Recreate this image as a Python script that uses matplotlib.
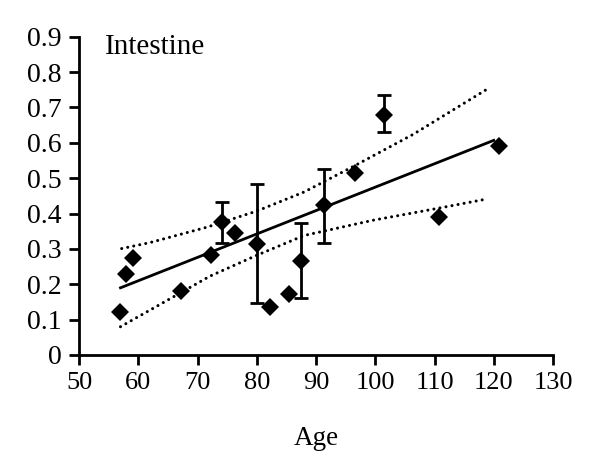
import matplotlib
matplotlib.use("Agg")
import matplotlib.pyplot as plt

# Data
ages = [57.0, 58.0, 59.1, 67.2, 72.3, 74.2, 76.3, 80.1, 82.3, 85.4, 87.4, 91.4, 96.5, 101.5, 110.7, 120.8]
values = [0.122, 0.229, 0.275, 0.182, 0.282, 0.377, 0.344, 0.313, 0.137, 0.172, 0.265, 0.424, 0.515, 0.678, 0.391, 0.590]

err_ages = [74.2, 80.1, 87.4, 91.4, 101.5]
err_vals = [0.377, 0.313, 0.265, 0.424, 0.678]
err_low = [0.059, 0.166, 0.105, 0.106, 0.047]
err_high = [0.056, 0.170, 0.107, 0.101, 0.057]

fit_x = [57.0, 120.0]
fit_y = [0.190, 0.607]

upper_x = [57.2, 62.0, 71.5, 80.0, 88.0, 96.5, 106.4, 118.8]
upper_y = [0.301, 0.318, 0.361, 0.407, 0.461, 0.535, 0.624, 0.751]
lower_x = [57.0, 62.3, 72.1, 80.0, 88.0, 99.6, 110.0, 118.8]
lower_y = [0.080, 0.130, 0.223, 0.282, 0.338, 0.381, 0.413, 0.441]

x_ticks = [50, 60, 70, 80, 90, 100, 110, 120, 130]
y_ticks = [0, 0.1, 0.2, 0.3, 0.4, 0.5, 0.6, 0.7, 0.8, 0.9]
y_tick_labels = ["0", "0.1", "0.2", "0.3", "0.4", "0.5", "0.6", "0.7", "0.8", "0.9"]

plt.rcParams['font.family'] = ['Liberation Serif', 'DejaVu Serif']

fig = plt.figure(figsize=(6.0, 4.71), dpi=100)
ax = fig.add_axes([0.1317, 0.2463, 0.79, 0.6757])

ax.errorbar(err_ages, err_vals, yerr=[err_low, err_high], fmt='none',
            ecolor='black', elinewidth=2.0, capsize=5.0, capthick=2.0, zorder=2)
ax.plot(ages, values, linestyle='none', marker='D', markersize=9.2,
        color='black', markeredgewidth=0, zorder=3)
ax.plot(fit_x, fit_y, color='black', linewidth=2.0, zorder=2)
for bx, by in ((upper_x, upper_y), (lower_x, lower_y)):
    ax.plot(bx, by, color='black', linewidth=2.2, linestyle=(0, (0.01, 2.0)),
            dash_capstyle='round', zorder=2)

ax.set_xlim(50, 130)
ax.set_ylim(0, 0.9)
ax.set_xticks(x_ticks)
ax.set_yticks(y_ticks)
ax.set_yticklabels(y_tick_labels)
ax.tick_params(direction='out', length=7.5, width=2.0, labelsize=19, pad=5)
ax.tick_params(axis='y', labelsize=20)

for s in ('top', 'right'):
    ax.spines[s].set_visible(False)
for s in ('left', 'bottom'):
    ax.spines[s].set_linewidth(2.0)

ax.set_xlabel('Age', fontsize=19.5, labelpad=23)
ax.text(54.3, 0.852, 'Intestine', fontsize=21, va='baseline', ha='left')

fig.savefig('out.png', dpi=100)
